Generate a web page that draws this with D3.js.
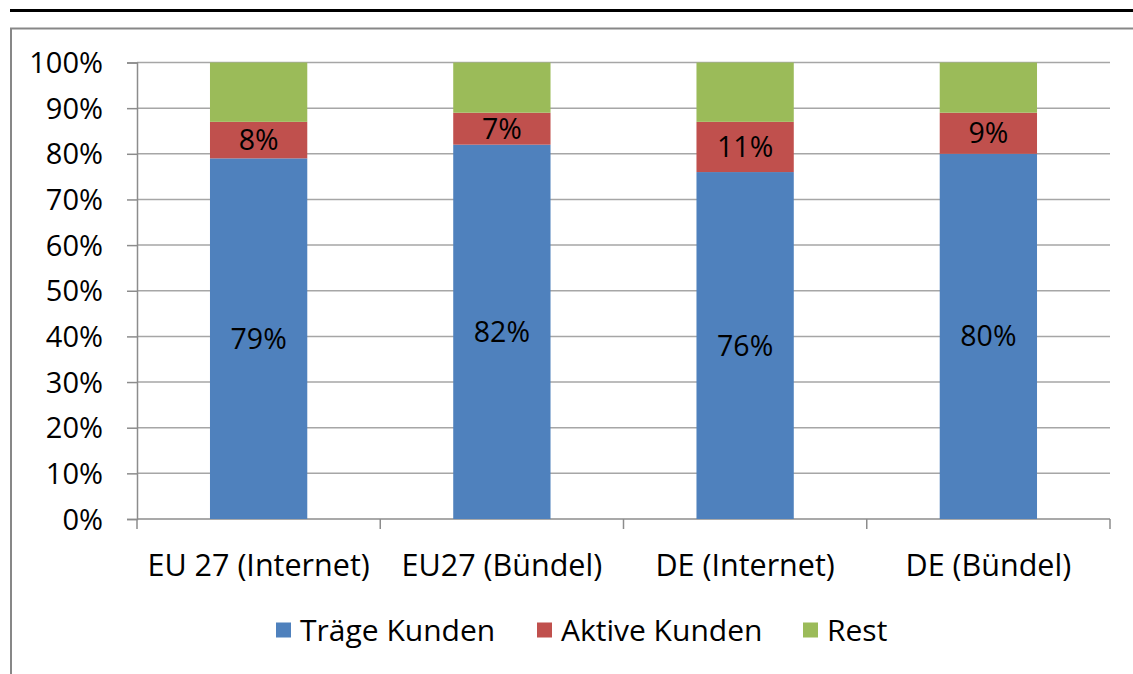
<!DOCTYPE html>
<html>
<head>
<meta charset="utf-8">
<script src="https://cdn.jsdelivr.net/npm/d3@7"></script>
<style>
  html, body { margin: 0; padding: 0; background: #fff; }
  svg text { font-family: "Open Sans", sans-serif; fill: #000; }
</style>
</head>
<body>
<div id="chart" style="width:1133px;height:674px;"></div>
<script>
var categories = ["EU 27 (Internet)", "EU27 (Bündel)", "DE (Internet)", "DE (Bündel)"];
var seriesNames = ["Träge Kunden", "Aktive Kunden", "Rest"];
var traege = [79, 82, 76, 80];
var aktive = [8, 7, 11, 9];
var rest = [13, 11, 13, 11];
var yTicks = [0, 10, 20, 30, 40, 50, 60, 70, 80, 90, 100];
var colors = ["#4F81BD", "#C0504D", "#9BBB59"];

function generateChart(id) {
  var container = d3.select("#" + id);
  var width = 1133, height = 674;

  var svg = container.append("svg")
    .attr("width", width)
    .attr("height", height);

  // frame: black rule on top, gray box below
  svg.append("line")
    .attr("x1", 10).attr("x2", width)
    .attr("y1", 10.5).attr("y2", 10.5)
    .attr("stroke", "#000").attr("stroke-width", 3);
  svg.append("path")
    .attr("d", "M11," + height + " V28.5 H" + width)
    .attr("fill", "none")
    .attr("stroke", "#878787")
    .attr("stroke-width", 2);

  var left = 137, right = 1110, top = 62.5, bottom = 519;

  var table = categories.map(function(c, i) {
    return { cat: c, "Träge Kunden": traege[i], "Aktive Kunden": aktive[i], "Rest": rest[i] };
  });
  var stacked = d3.stack().keys(seriesNames)(table);

  var x = d3.scaleBand()
    .domain(categories)
    .range([left, right])
    .paddingInner(0.6)
    .paddingOuter(0.3);
  var y = d3.scaleLinear()
    .domain([0, 100])
    .range([bottom, top]);

  // gridlines
  svg.append("g")
    .selectAll("line")
    .data(yTicks.slice(1))
    .join("line")
    .attr("x1", left).attr("x2", right)
    .attr("y1", function(d) { return y(d); })
    .attr("y2", function(d) { return y(d); })
    .attr("stroke", "#A6A6A6")
    .attr("stroke-width", 1.5);

  // y axis
  var yAxis = svg.append("g")
    .attr("transform", "translate(" + left + ",0)")
    .call(d3.axisLeft(y).tickValues(yTicks).tickSize(10).tickPadding(24)
      .tickFormat(function(d) { return d + "%"; }));
  yAxis.selectAll("text").style("font-size", "29px").attr("dy", "0.35em");

  // x axis with ticks between categories
  var step = (right - left) / categories.length;
  var xAxisG = svg.append("g");
  xAxisG.append("line")
    .attr("x1", left).attr("x2", right)
    .attr("y1", bottom).attr("y2", bottom);
  xAxisG.selectAll(".tk")
    .data(d3.range(categories.length + 1))
    .join("line")
    .attr("class", "tk")
    .attr("x1", function(d) { return left + d * step; })
    .attr("x2", function(d) { return left + d * step; })
    .attr("y1", bottom).attr("y2", bottom + 10);
  xAxisG.selectAll("text")
    .data(categories)
    .join("text")
    .attr("x", function(d) { return x(d) + x.bandwidth() / 2; })
    .attr("y", 565)
    .attr("dy", "0.35em")
    .attr("text-anchor", "middle")
    .style("font-size", "30.5px")
    .text(function(d) { return d; });

  // bars
  var layers = svg.append("g")
    .selectAll("g")
    .data(stacked)
    .join("g")
    .attr("fill", function(d, i) { return colors[i]; });
  layers.selectAll("rect")
    .data(function(d) { return d; })
    .join("rect")
    .attr("x", function(d) { return x(d.data.cat); })
    .attr("width", x.bandwidth())
    .attr("y", function(d) { return y(d[1]); })
    .attr("height", function(d) { return y(d[0]) - y(d[1]); });

  // value labels (first two series only)
  stacked.slice(0, 2).forEach(function(s) {
    svg.append("g")
      .selectAll("text")
      .data(s)
      .join("text")
      .attr("x", function(d) { return x(d.data.cat) + x.bandwidth() / 2; })
      .attr("y", function(d) { return (y(d[0]) + y(d[1])) / 2; })
      .attr("dy", "0.35em")
      .attr("text-anchor", "middle")
      .style("font-size", "28.5px")
      .text(function(d) { return (d[1] - d[0]) + "%"; });
  });

  // axis colours
  svg.selectAll(".domain").attr("stroke", "#8C8C8C").attr("stroke-width", 1.5);
  svg.selectAll(".tick line").attr("stroke", "#8C8C8C").attr("stroke-width", 1.5);
  xAxisG.selectAll("line").attr("stroke", "#8C8C8C").attr("stroke-width", 1.5);

  // legend
  var legendX = [276, 537, 803];
  var legend = svg.append("g")
    .selectAll("g")
    .data(seriesNames)
    .join("g")
    .attr("transform", function(d, i) { return "translate(" + legendX[i] + ",630)"; });
  legend.append("rect")
    .attr("x", 0).attr("y", -7.5)
    .attr("width", 15).attr("height", 15)
    .attr("fill", function(d, i) { return colors[i]; });
  legend.append("text")
    .attr("x", 24)
    .attr("dy", "0.35em")
    .style("font-size", "30px")
    .text(function(d) { return d; });
}

generateChart("chart");
</script>
</body>
</html>
